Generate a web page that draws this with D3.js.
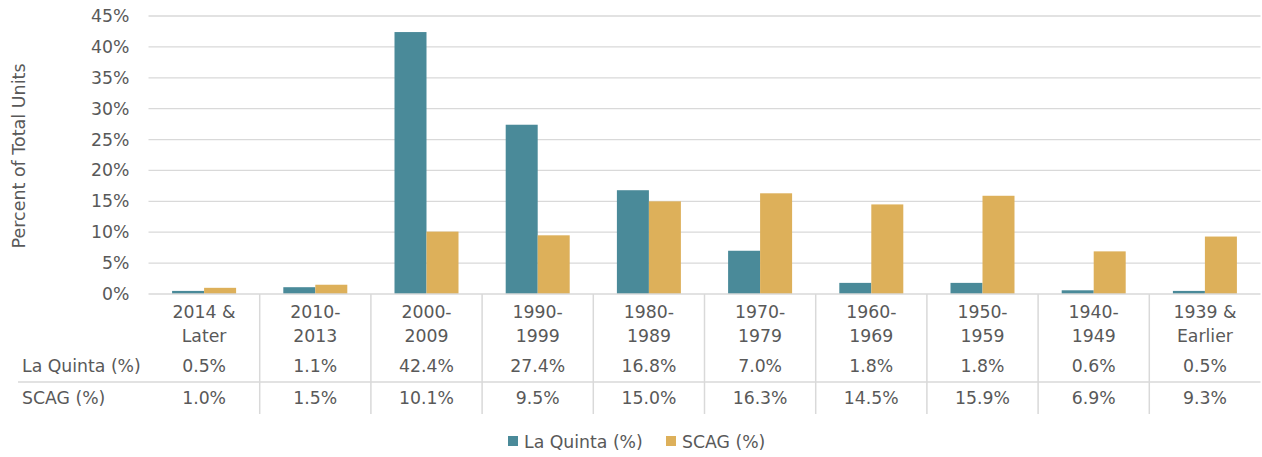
<!DOCTYPE html>
<html lang="en">
<head>
<meta charset="utf-8">
<title>Year Structure Built</title>
<script src="https://d3js.org/d3.v7.min.js"></script>
<style>
  body { margin: 0; background: #fff; font-family: "DejaVu Sans", sans-serif; }
  text { fill: #595959; }
</style>
</head>
<body>
<div id="chart"></div>
<script>
// data
var categories = [["2014 &", "Later"], ["2010-", "2013"], ["2000-", "2009"], ["1990-", "1999"], ["1980-", "1989"],
                  ["1970-", "1979"], ["1960-", "1969"], ["1950-", "1959"], ["1940-", "1949"], ["1939 &", "Earlier"]];
var laQuinta = [0.5, 1.1, 42.4, 27.4, 16.8, 7.0, 1.8, 1.8, 0.6, 0.5];
var scag = [1.0, 1.5, 10.1, 9.5, 15.0, 16.3, 14.5, 15.9, 6.9, 9.3];
var seriesNames = ["La Quinta (%)", "SCAG (%)"];
var yTicks = [0, 5, 10, 15, 20, 25, 30, 35, 40, 45];
var colors = ["#4a8a99", "#ddb05a"];

var w = 1262, h = 457;
var plotLeft = 148.5, plotRight = 1260.5, plotTop = 16, plotBottom = 294;
var fontSize = "17.3px";

var svg = d3.select("#chart").append("svg")
    .attr("width", w).attr("height", h);

var keys = categories.map(function(c, i){ return i; });
var x = d3.scaleBand().domain(keys).range([plotLeft, plotRight]);
var xInner = d3.scaleBand().domain([0, 1]).range([0, 64]);
var y = d3.scaleLinear().domain([0, 45]).range([plotBottom, plotTop]);

// gridlines
svg.append("g").selectAll("line")
    .data(yTicks.slice(1))
    .enter().append("line")
    .attr("x1", plotLeft).attr("x2", plotRight)
    .attr("y1", function(d){ return y(d); })
    .attr("y2", function(d){ return y(d); })
    .attr("stroke", "#d9d9d9").attr("stroke-width", 1.3);

// y axis labels
var yAxis = d3.axisLeft(y).tickValues(yTicks).tickSize(0).tickPadding(19)
    .tickFormat(function(d){ return d + "%"; });
var ya = svg.append("g").attr("transform", "translate(" + plotLeft + ",0)").call(yAxis);
ya.select(".domain").remove();
ya.selectAll("text").style("font-size", fontSize).style("font-family", "'DejaVu Sans', sans-serif").attr("fill", "#595959");

// y title
svg.append("text")
    .attr("transform", "translate(25,156) rotate(-90)")
    .attr("text-anchor", "middle")
    .style("font-size", "17.5px")
    .text("Percent of Total Units");

// bars
var series = [laQuinta, scag];
series.forEach(function(vals, s){
  svg.append("g").selectAll("rect")
    .data(vals)
    .enter().append("rect")
    .attr("x", function(d, i){ return x(i) + (x.bandwidth() - 64) / 2 + xInner(s); })
    .attr("y", function(d){ return y(d); })
    .attr("width", xInner.bandwidth())
    .attr("height", function(d){ return plotBottom - y(d); })
    .attr("fill", colors[s]);
});

// table lines
svg.append("line").attr("x1", plotLeft).attr("x2", plotRight).attr("y1", plotBottom).attr("y2", plotBottom)
    .attr("stroke", "#d9d9d9").attr("stroke-width", 1.5);
svg.append("line").attr("x1", 18).attr("x2", plotRight).attr("y1", 382).attr("y2", 382)
    .attr("stroke", "#d9d9d9").attr("stroke-width", 1.5);
svg.append("g").selectAll("line")
    .data(keys.slice(1))
    .enter().append("line")
    .attr("x1", function(d){ return x(d); })
    .attr("x2", function(d){ return x(d); })
    .attr("y1", plotBottom).attr("y2", 414)
    .attr("stroke", "#d9d9d9").attr("stroke-width", 1.5);

// category labels
var cat = svg.append("g").selectAll("text")
    .data(categories)
    .enter().append("text")
    .attr("text-anchor", "middle")
    .style("font-size", fontSize);
cat.append("tspan").attr("x", function(d, i){ return x(i) + x.bandwidth() / 2; })
    .attr("y", 318).text(function(d){ return d[0]; });
cat.append("tspan").attr("x", function(d, i){ return x(i) + x.bandwidth() / 2; })
    .attr("y", 342).text(function(d){ return d[1]; });

// table rows
var rowY = [372, 404];
series.forEach(function(vals, s){
  svg.append("text").attr("x", 22).attr("y", rowY[s])
    .style("font-size", fontSize).text(seriesNames[s]);
  svg.append("g").selectAll("text")
    .data(vals)
    .enter().append("text")
    .attr("text-anchor", "middle")
    .attr("x", function(d, i){ return x(i) + x.bandwidth() / 2; })
    .attr("y", rowY[s])
    .style("font-size", fontSize)
    .text(function(d){ return d.toFixed(1) + "%"; });
});

// legend
var legX = [508, 666];
seriesNames.forEach(function(n, s){
  svg.append("rect").attr("x", legX[s]).attr("y", 436).attr("width", 10).attr("height", 10)
    .attr("fill", colors[s]);
  svg.append("text").attr("x", legX[s] + 16).attr("y", 448)
    .style("font-size", fontSize).text(n);
});
</script>
</body>
</html>
